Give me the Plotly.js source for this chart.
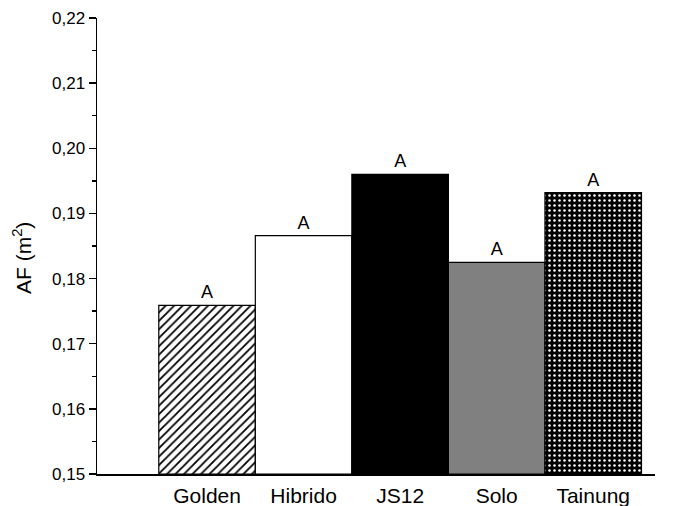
<!DOCTYPE html>
<html>
<head>
<meta charset="utf-8">
<script src="https://cdn.plot.ly/plotly-3.0.1.min.js"></script>
<style>html,body{margin:0;padding:0;background:#fff;}#chart{width:690px;height:506px;}</style>
</head>
<body>
<div id="chart"></div>
<script>
const categories = ["Golden", "Hibrido", "JS12", "Solo", "Tainung"];
const values = [0.1759, 0.1866, 0.1960, 0.1825, 0.1932];
const letters = ["A", "A", "A", "A", "A"];
const yTicks = [0.15, 0.16, 0.17, 0.18, 0.19, 0.20, 0.21, 0.22];
const yTitle = "AF (m<sup>2</sup>)";

const styles = [
  {color: "#ffffff", pattern: {shape: "/", fgcolor: "#000000", bgcolor: "#ffffff", size: 6, solidity: 0.3}},
  {color: "#ffffff"},
  {color: "#000000"},
  {color: "#808080"},
  {color: "#000000", pattern: {shape: ".", fgcolor: "#ffffff", bgcolor: "#000000", size: 5, solidity: 0.2}}
];

const FONT = "Arial, 'Liberation Sans', sans-serif";

const traces = categories.map((c, i) => ({
  type: "bar",
  x: [i],
  y: [values[i] - 0.15],
  base: 0.15,
  width: 1,
  text: [letters[i]],
  textposition: "outside",
  textfont: {family: FONT, size: 18, color: "#000"},
  cliponaxis: false,
  marker: Object.assign({line: {color: "#000", width: 1.2}}, styles[i]),
  hoverinfo: "none",
  showlegend: false
}));

const layout = {
  width: 690, height: 506,
  margin: {l: 97, r: 35, t: 18, b: 32},
  paper_bgcolor: "#fff", plot_bgcolor: "#fff",
  separators: ",.",
  bargap: 0,
  font: {family: FONT, color: "#000"},
  xaxis: {
    range: [-1.14, 4.64],
    tickvals: [0, 1, 2, 3, 4],
    ticktext: categories,
    showline: true, linecolor: "#000", linewidth: 1.5,
    ticks: "", showgrid: false, zeroline: false,
    tickfont: {family: FONT, size: 21},
    ticklabelstandoff: 2
  },
  yaxis: {
    range: [0.15, 0.22],
    tickvals: yTicks,
    tickformat: ".2f",
    showline: true, linecolor: "#000", linewidth: 1.5,
    ticks: "outside", ticklen: 7, tickwidth: 1.5, tickcolor: "#000",
    minor: {dtick: 0.005, tick0: 0.15, ticks: "outside", ticklen: 4, tickwidth: 1.5, tickcolor: "#000", showgrid: false},
    showgrid: false, zeroline: false,
    tickfont: {family: FONT, size: 17}
  },
  annotations: [{
    text: yTitle, xref: "paper", yref: "paper", x: 0, y: 0.5,
    xanchor: "center", yanchor: "middle", xshift: -75, yshift: -12,
    textangle: -90, showarrow: false, font: {family: FONT, size: 21, color: "#000"}
  }]
};

Plotly.newPlot("chart", traces, layout, {staticPlot: true});
</script>
</body>
</html>
